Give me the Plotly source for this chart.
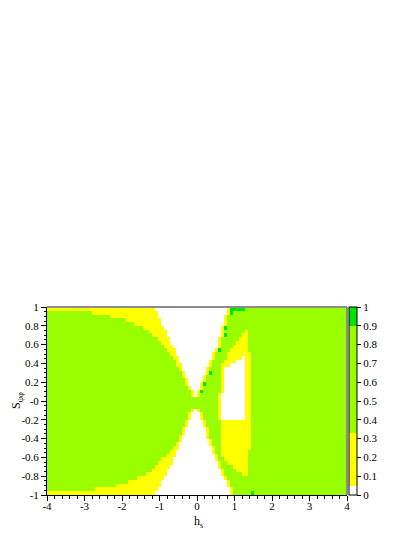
import numpy as np
import plotly.graph_objects as go

# bin centres of the 2D map (100 x 50 cells)
h_centres = np.round(np.arange(-3.96, 4.0, 0.08), 2)
s_rows = [-0.98, -0.94, -0.90, -0.86, -0.82, -0.78, -0.74, -0.70, -0.66, -0.62,
          -0.58, -0.54, -0.50, -0.46, -0.42, -0.38, -0.34, -0.30, -0.26, -0.22,
          -0.18, -0.14, -0.10, -0.06, -0.02, 0.02, 0.06, 0.10, 0.14, 0.18,
          0.22, 0.26, 0.30, 0.34, 0.38, 0.42, 0.46, 0.50, 0.54, 0.58,
          0.62, 0.66, 0.70, 0.74, 0.78, 0.82, 0.86, 0.90, 0.94, 0.98]

# region edges read per row (bottom row first), in h units
left_green_end = [-4, -2.72, -2.16, -1.84, -1.6, -1.36, -1.2, -1.12, -1.04, -0.96,
                  -0.8, -0.72, -0.64, -0.56, -0.48, -0.48, -0.4, -0.4, -0.32, -0.32,
                  -0.24, -0.24, -0.16, 0, 0, 0, -0.16, -0.16, -0.24, -0.32,
                  -0.32, -0.4, -0.4, -0.48, -0.56, -0.56, -0.64, -0.72, -0.8, -0.88,
                  -0.96, -1.04, -1.2, -1.28, -1.44, -1.68, -1.92, -2.32, -2.8, -4]
left_yellow_end = [-1.12, -1.04, -0.96, -0.96, -0.88, -0.8, -0.8, -0.72, -0.64, -0.64,
                   -0.56, -0.56, -0.48, -0.48, -0.4, -0.4, -0.32, -0.32, -0.24, -0.24,
                   -0.16, -0.16, -0.08, 0, 0, 0, -0.08, -0.08, -0.16, -0.24,
                   -0.24, -0.32, -0.32, -0.4, -0.4, -0.48, -0.48, -0.56, -0.56, -0.64,
                   -0.72, -0.72, -0.8, -0.8, -0.88, -0.96, -0.96, -1.04, -1.04, -1.12]
arm_start = [0.96, 0.96, 0.88, 0.88, 0.8, 0.72, 0.72, 0.64, 0.64, 0.56,
             0.56, 0.48, 0.48, 0.4, 0.4, 0.32, 0.32, 0.32, 0.24, 0.24,
             0.16, 0.16, 0.08, 0, 0, 0, 0.08, 0.08, 0.16, 0.16,
             0.24, 0.24, 0.32, 0.32, 0.4, 0.4, 0.48, 0.48, 0.56, 0.64,
             0.64, 0.64, 0.72, 0.72, 0.72, 0.8, 0.8, 0.8, 0.88, 0.88]
inner_start = [4, 4, 4, 4, 4, 1.2, 1.04, 0.96, 0.8, 0.72,
               0.64, 0.64, 0.64, 0.64, 0.64, 0.64, 0.64, 0.64, 0.64, 0.64,
               0.56, 0.56, 0.56, 0.56, 0.56, 0.56, 0.56, 0.64, 0.64, 0.64,
               0.64, 0.64, 0.64, 0.64, 0.64, 0.72, 0.8, 0.8, 0.88, 0.96,
               1.04, 1.12, 1.2, 1.28, 4, 4, 4, 4, 4, 4]
inner_end = [4, 4, 4, 4, 4, 1.36, 1.36, 1.36, 1.36, 1.36,
             1.36, 1.36, 1.44, 1.44, 1.44, 1.44, 1.44, 1.44, 1.44, 1.44,
             1.44, 1.44, 1.44, 1.44, 1.44, 1.44, 1.44, 1.44, 1.44, 1.44,
             1.44, 1.44, 1.44, 1.44, 1.44, 1.44, 1.44, 1.44, 1.36, 1.36,
             1.36, 1.36, 1.36, 1.36, 4, 4, 4, 4, 4, 4]
hole_start = [0, 0, 0, 0, 0, 0, 0, 0, 0, 0,
              0, 0, 0, 0, 0, 0, 0, 0, 0, 0,
              0.64, 0.64, 0.64, 0.64, 0.64, 0.64, 0.64, 0.72, 0.72, 0.72,
              0.72, 0.72, 0.72, 0.72, 0.88, 1.04, 1.2, 0, 0, 0,
              0, 0, 0, 0, 0, 0, 0, 0, 0, 0]
hole_end = [0, 0, 0, 0, 0, 0, 0, 0, 0, 0,
            0, 0, 0, 0, 0, 0, 0, 0, 0, 0,
            1.28, 1.28, 1.28, 1.28, 1.28, 1.28, 1.28, 1.28, 1.28, 1.28,
            1.28, 1.28, 1.28, 1.28, 1.28, 1.28, 1.28, 0, 0, 0,
            0, 0, 0, 0, 0, 0, 0, 0, 0, 0]

# cells above 0.9
high_h = [0.92, 1.0, 1.08, 1.16, 1.24, 0.92, 0.76, 0.76, 0.6, 0.36, 0.2, 0.12, 1.48]
high_s = [0.98, 0.98, 0.98, 0.98, 0.98, 0.94, 0.78, 0.70, 0.54, 0.30, 0.18, 0.10, -0.98]

WHITE, YELLOW, GREEN, DARK = 0.0, 0.2, 0.6, 0.95

z = np.zeros((len(s_rows), len(h_centres)))
for i in range(len(s_rows)):
    for j, hc in enumerate(h_centres):
        if hc < left_green_end[i]:
            v = GREEN
        elif hc < left_yellow_end[i]:
            v = YELLOW
        elif hc < arm_start[i]:
            v = WHITE if hc < arm_start[i] - 0.08 else YELLOW
        elif hc < inner_start[i]:
            v = GREEN
        elif hc < inner_end[i]:
            v = WHITE if hole_start[i] <= hc < hole_end[i] else YELLOW
        else:
            v = GREEN
        z[i, j] = v

for hh, ss in zip(high_h, high_s):
    i = int(np.argmin(np.abs(np.array(s_rows) - ss)))
    j = int(np.argmin(np.abs(h_centres - hh)))
    z[i, j] = DARK

colorscale = [
    [0.0, "#ffffff"], [0.05, "#ffffff"],
    [0.05, "#ffff00"], [0.33, "#ffff00"],
    [0.33, "#99ff00"], [0.9, "#99ff00"],
    [0.9, "#00e400"], [1.0, "#00e400"],
]

cbar_vals = [0, 0.1, 0.2, 0.3, 0.4, 0.5, 0.6, 0.7, 0.8, 0.9, 1]
cbar_text = ["0", "0.1", "0.2", "0.3", "0.4", "0.5", "0.6", "0.7", "0.8", "0.9", "1"]
y_vals = [-1, -0.8, -0.6, -0.4, -0.2, 0, 0.2, 0.4, 0.6, 0.8, 1]
y_text = ["-1", "-0.8", "-0.6", "-0.4", "-0.2", "-0", "0.2", "0.4", "0.6", "0.8", "1"]
x_vals = [-4, -3, -2, -1, 0, 1, 2, 3, 4]
x_text = ["-4", "-3", "-2", "-1", "0", "1", "2", "3", "4"]

serif = "Liberation Serif, Times New Roman, serif"

fig = go.Figure(
    go.Heatmap(
        x=h_centres,
        y=s_rows,
        z=z,
        zmin=0,
        zmax=1,
        colorscale=colorscale,
        colorbar=dict(
            thickness=8,
            x=1.008,
            xanchor="left",
            xpad=0,
            y=0.5,
            yanchor="middle",
            len=1.0,
            ypad=0,
            tickvals=cbar_vals,
            ticktext=cbar_text,
            ticks="outside",
            ticklen=4,
            tickcolor="black",
            outlinewidth=1,
            outlinecolor="black",
            tickfont=dict(family=serif, size=11, color="black"),
        ),
    )
)

# page body adds an 8px offset, so the figure is 8px smaller each way
fig.update_layout(
    width=407,
    height=529,
    margin=dict(l=39, r=68, t=299, b=42, autoexpand=False),
    paper_bgcolor="white",
    plot_bgcolor="white",
    showlegend=False,
    xaxis=dict(
        range=[-4, 4],
        tickvals=x_vals,
        ticktext=x_text,
        ticks="outside",
        ticklen=5,
        ticklabelstandoff=-4,
        tickcolor="black",
        showline=True,
        linecolor="black",
        linewidth=1,
        showgrid=False,
        zeroline=False,
        automargin=False,
        minor=dict(dtick=0.2, ticks="outside", ticklen=2.5, tickcolor="black", showgrid=False),
        tickfont=dict(family=serif, size=11, color="black"),
    ),
    yaxis=dict(
        range=[-1, 1],
        tickvals=y_vals,
        ticktext=y_text,
        ticks="outside",
        ticklen=5,
        tickcolor="black",
        showline=True,
        linecolor="black",
        linewidth=1,
        showgrid=False,
        zeroline=False,
        automargin=False,
        minor=dict(dtick=0.05, ticks="outside", ticklen=2.5, tickcolor="black", showgrid=False),
        tickfont=dict(family=serif, size=11, color="black"),
    ),
    shapes=[
        dict(type="line", xref="paper", yref="paper", x0=0, x1=1, y0=1, y1=1,
             line=dict(color="#8c8c8c", width=2)),
        dict(type="line", xref="paper", yref="paper", x0=1, x1=1, y0=0, y1=1,
             line=dict(color="#8c8c8c", width=2)),
    ],
    annotations=[
        dict(text="h<sub>s</sub>", xref="paper", yref="paper", x=0.505, y=-0.145,
             xanchor="center", yanchor="middle", showarrow=False,
             font=dict(family=serif, size=12, color="black")),
        dict(text="S<sub>ψφ</sub>", xref="paper", yref="paper", x=-0.1, y=0.5,
             xanchor="center", yanchor="middle", showarrow=False, textangle=-90,
             font=dict(family=serif, size=12, color="black")),
    ],
)

fig.write_html("out.html")
